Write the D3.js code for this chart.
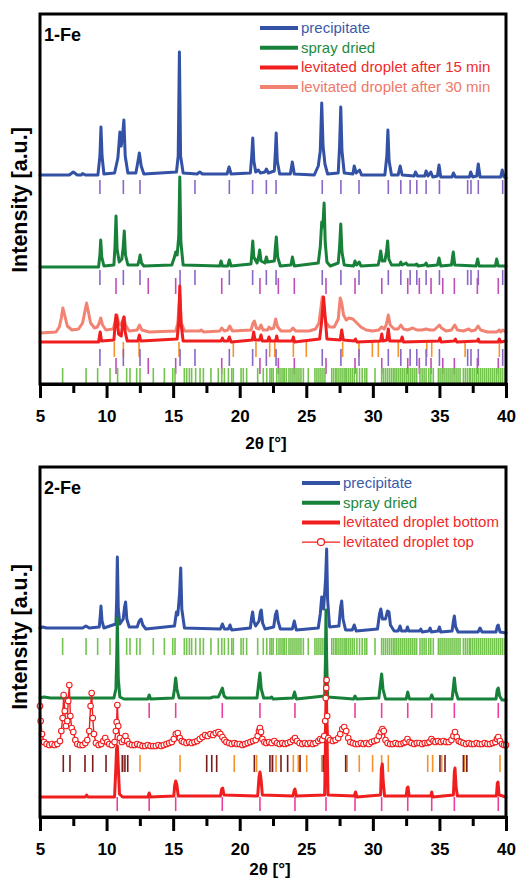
<!DOCTYPE html>
<html><head><meta charset="utf-8">
<script src="https://cdn.jsdelivr.net/npm/d3@7"></script>
<style>body{margin:0;background:#fff}svg{display:block}</style>
</head><body>
<script>
// ---------------- DATA ----------------
const xTicks = [5,10,15,20,25,30,35,40];
const xMinorTicks = [7.5,12.5,17.5,22.5,27.5,32.5,37.5];
const xTitle = "2\u03b8 [\u00b0]";
const yTitle = "Intensity [a.u.]";
const panelNames = ["1-Fe","2-Fe"];
const legend1 = ["precipitate","spray dried","levitated droplet after 15 min","levitated droplet after 30 min"];
const legend2 = ["precipitate","spray dried","levitated droplet bottom","levitated droplet top"];

// 1-Fe patterns: [2theta, intensity above own baseline]
const fe1Precipitate = [[5,1],[7.2,1],[7.5,4],[7.8,1],[8.1,1],[8.2,2.5],[8.4,1],[9.35,1],[9.5,20],[9.58,49],[9.66,20],[9.8,2],[10.6,3],[10.85,18],[11.0,44],[11.1,30],[11.2,40],[11.3,56],[11.4,20],[11.6,3],[12.2,3],[12.35,14],[12.46,23],[12.6,10],[12.8,2],[15.25,4],[15.38,20],[15.47,124],[15.56,20],[15.75,3],[16.8,2],[17.0,4],[17.2,2],[19.05,2],[19.2,9],[19.35,2],[20.8,3],[20.9,20],[20.98,38],[21.06,15],[21.2,4],[21.4,6],[21.55,3],[21.9,4],[22.0,7],[22.15,3],[22.6,5],[22.68,25],[22.74,43],[22.82,15],[23.0,2],[23.8,2],[23.95,14],[24.1,2],[25.6,1],[25.9,10],[26.05,25],[26.16,73],[26.26,30],[26.4,12],[26.6,2],[27.4,3],[27.5,30],[27.59,69],[27.68,25],[27.85,3],[28.5,2],[28.6,10],[28.75,3],[29.0,6],[29.15,1],[30.9,1],[31.05,20],[31.13,46],[31.22,15],[31.4,1],[31.9,1],[32.05,10],[32.2,1],[33.1,0],[33.2,4],[33.35,0],[33.9,0],[34.0,5],[34.15,0],[34.35,4],[34.5,-1],[34.85,0],[34.97,11],[35.1,-1],[35.95,-1],[36.05,3],[36.2,-1],[37.25,-1],[37.35,4],[37.5,-1],[37.8,0],[37.92,12],[38.05,-1],[39.6,-1],[39.72,6],[39.85,-1],[40,-2]];
const fe1SprayDried = [[5,0],[9.4,0],[9.5,12],[9.56,27],[9.64,10],[9.8,1],[10.55,2],[10.63,20],[10.71,51],[10.79,18],[10.95,5],[11.15,8],[11.25,20],[11.33,36],[11.42,12],[11.6,2],[12.35,2],[12.46,8],[12.52,12],[12.62,4],[12.8,1],[14.9,2],[15.1,10],[15.19,15],[15.3,12],[15.42,30],[15.5,90],[15.58,25],[15.75,2],[18.5,1],[18.6,6],[18.7,1],[19.1,1],[19.22,7],[19.35,1],[20.85,3],[20.92,15],[20.98,26],[21.06,10],[21.3,4],[21.42,10],[21.5,17],[21.6,6],[21.9,4],[22.0,10],[22.1,5],[22.6,6],[22.68,20],[22.75,30],[22.85,10],[23.05,1],[23.85,2],[23.96,10],[24.1,1],[25.9,4],[26.05,20],[26.16,45],[26.24,40],[26.34,64],[26.42,25],[26.55,5],[26.8,1],[27.4,4],[27.5,20],[27.59,43],[27.68,15],[27.85,2],[28.55,1],[28.66,6],[28.78,2],[28.98,5],[29.1,1],[30.4,2],[30.5,8],[30.59,16],[30.7,6],[30.9,6],[31.02,15],[31.11,26],[31.2,8],[31.4,2],[32.0,2],[32.1,5],[32.2,2],[32.5,4],[32.6,2],[33.2,2],[33.29,3],[33.4,1],[33.9,2],[34.0,4],[34.1,1],[34.85,2],[34.97,9],[35.1,1],[35.9,2],[36.04,15],[36.15,2],[37.75,1],[37.87,8],[37.98,1],[39.2,1],[39.3,8],[39.42,1],[40,1]];
const fe1Lev15 = [[5,0],[9.4,0],[9.52,10],[9.62,1],[10.55,2],[10.63,15],[10.71,27],[10.8,22],[10.9,8],[11.1,6],[11.22,20],[11.31,25],[11.4,10],[11.55,1],[12.35,1],[12.46,7],[12.57,1],[15.3,3],[15.42,20],[15.5,56],[15.58,20],[15.75,1],[18.6,1],[18.7,4],[18.8,1],[19.1,1],[19.22,5],[19.35,0],[20.95,2],[21.05,10],[21.15,2],[21.5,2],[21.6,7],[21.7,1],[22.1,1],[22.2,5],[22.3,1],[22.7,1],[22.78,6],[22.86,1],[23.95,1],[24.03,5],[24.12,0],[26.0,3],[26.15,20],[26.3,45],[26.42,25],[26.55,3],[27.55,2],[27.66,12],[27.78,2],[28.6,1],[28.7,3],[28.8,0],[30.58,1],[30.67,8],[30.76,1],[31.05,2],[31.16,13],[31.27,1],[32.1,1],[32.2,5],[32.3,0],[34.95,1],[35.04,4],[35.13,0],[36.1,1],[36.2,3],[36.3,0],[37.85,1],[37.92,3],[38.0,0],[39.4,0],[39.5,3],[39.6,0],[40,1]];
const fe1Lev30 = [[5,0],[6.2,1],[6.45,6],[6.6,15],[6.72,25],[6.85,18],[7.05,7],[7.4,3],[7.9,4],[8.2,10],[8.38,22],[8.5,30],[8.62,22],[8.8,10],[9.1,5],[9.3,6],[9.45,10],[9.56,15],[9.7,8],[9.95,3],[10.5,4],[10.65,12],[10.78,18],[10.9,10],[11.05,8],[11.2,12],[11.3,16],[11.42,8],[11.7,2],[12.3,3],[12.48,8],[12.65,3],[13.2,1],[15.2,2],[15.35,10],[15.5,38],[15.62,10],[15.85,2],[17.0,2],[17.1,3],[17.3,1],[18.5,2],[18.65,5],[18.85,2],[19.1,3],[19.25,7],[19.45,2],[20.85,3],[21.0,10],[21.1,12],[21.25,5],[21.45,4],[21.6,8],[21.75,3],[22.1,3],[22.2,6],[22.35,4],[22.55,5],[22.7,14],[22.85,6],[23.1,2],[23.8,2],[24.0,5],[24.2,2],[25.2,2],[25.7,4],[25.95,10],[26.1,25],[26.2,36],[26.32,20],[26.5,10],[26.75,6],[27.1,6],[27.4,14],[27.55,35],[27.66,30],[27.8,18],[28.0,13],[28.2,15],[28.5,14],[28.8,10],[29.1,6],[29.5,3],[30.0,2],[30.45,3],[30.65,6],[30.85,4],[31.0,8],[31.16,18],[31.3,8],[31.6,4],[31.9,4],[32.1,8],[32.3,4],[32.6,3],[33.0,5],[33.3,3],[33.7,3],[34.0,4],[34.3,3],[34.6,3],[34.85,6],[35.0,8],[35.15,5],[35.5,2],[35.9,3],[36.15,8],[36.35,3],[36.8,2],[37.2,4],[37.4,2],[37.7,3],[37.9,7],[38.1,3],[38.6,1],[39.3,1],[39.5,3],[39.6,1],[39.75,3],[40,1]];

// 2-Fe patterns
const fe2Precipitate = [[5,1],[5.2,2],[5.5,1],[8.2,1],[8.45,3],[8.7,1],[9.45,2],[9.52,12],[9.58,23],[9.66,8],[9.8,1],[10.7,5],[10.76,30],[10.81,72],[10.88,20],[11.0,5],[11.25,10],[11.35,22],[11.43,27],[11.52,10],[11.7,2],[12.3,2],[12.45,8],[12.59,10],[12.72,4],[12.95,0],[15.1,3],[15.25,17],[15.35,14],[15.48,35],[15.57,61],[15.65,20],[15.85,1],[18.55,0],[18.7,5],[18.85,0],[19.15,0],[19.27,4],[19.4,-1],[20.8,1],[20.9,12],[20.97,17],[21.05,8],[21.2,3],[21.45,8],[21.55,17],[21.62,19],[21.72,6],[21.9,0],[22.55,2],[22.68,14],[22.78,18],[22.88,8],[23.05,0],[23.95,0],[24.1,8],[24.25,-1],[25.9,1],[26.05,15],[26.16,32],[26.3,20],[26.45,50],[26.53,80],[26.6,30],[26.75,2],[27.45,3],[27.58,22],[27.66,28],[27.76,10],[27.95,-1],[28.45,-1],[28.6,4],[28.75,-2],[30.35,0],[30.5,15],[30.6,20],[30.72,10],[30.95,10],[31.1,18],[31.21,17],[31.32,4],[31.6,-2],[31.9,-2],[32.04,3],[32.15,-2],[32.5,-2],[32.6,2],[32.7,-2],[33.5,-2],[33.6,0],[33.7,-3],[34.2,-2],[34.3,1],[34.4,-3],[34.9,-2],[35.0,2],[35.1,-3],[35.95,-2],[36.05,8],[36.12,13],[36.22,2],[36.4,-3],[37.9,-3],[38.05,1],[38.2,-3],[39.25,-3],[39.35,3],[39.42,4],[39.55,-3],[40,-4]];
const fe2SprayDried = [[5,1],[5.3,2],[5.8,1],[10.55,1],[10.7,10],[10.76,40],[10.81,81],[10.88,20],[11.0,2],[11.3,0],[13.1,0],[13.2,4],[13.3,0],[15.0,1],[15.1,10],[15.19,21],[15.28,10],[15.45,1],[17.8,1],[18.0,2],[18.4,2],[18.6,8],[18.7,11],[18.82,3],[19.0,1],[21.3,1],[21.42,15],[21.52,26],[21.62,10],[21.8,1],[22.3,1],[22.4,2],[22.5,0],[24.0,1],[24.12,7],[24.25,0],[26.38,3],[26.44,40],[26.48,89],[26.53,40],[26.6,2],[28.55,0],[28.66,3],[28.78,0],[30.45,1],[30.57,15],[30.66,25],[30.76,10],[30.95,0],[32.5,0],[32.62,7],[32.75,0],[34.3,0],[34.42,4],[34.55,0],[35.95,0],[36.05,12],[36.12,21],[36.22,8],[36.4,0],[39.25,0],[39.34,9],[39.42,11],[39.52,3],[39.7,-1],[40,-1]];
const fe2LevBottom = [[5,0],[8.4,0],[8.5,2],[8.6,0],[10.6,0],[10.7,30],[10.75,48],[10.81,51],[10.88,30],[10.97,3],[11.2,0],[13.1,0],[13.2,4],[13.3,0],[15.05,1],[15.12,12],[15.19,16],[15.28,12],[15.38,1],[18.55,1],[18.65,8],[18.72,9],[18.82,2],[21.35,1],[21.45,20],[21.52,25],[21.6,18],[21.7,2],[24.0,1],[24.1,7],[24.15,8],[24.25,1],[26.38,2],[26.45,60],[26.5,117],[26.56,60],[26.63,2],[28.6,1],[28.7,5],[28.8,0],[30.58,2],[30.64,28],[30.71,33],[30.78,15],[30.88,1],[32.5,1],[32.58,9],[32.64,10],[32.72,1],[34.35,1],[34.42,5],[34.5,0],[36.05,2],[36.12,25],[36.17,29],[36.25,10],[36.35,1],[39.28,1],[39.35,14],[39.4,15],[39.48,2],[40,0]];
const fe2LevTop = [[5.0,40],[5.05,25],[5.15,12],[5.3,4],[5.5,2],[5.7,1],[5.9,2],[6.1,1],[6.3,2],[6.5,5],[6.6,15],[6.7,28],[6.78,51],[6.86,35],[6.95,20],[7.05,25],[7.12,45],[7.2,61],[7.28,30],[7.38,18],[7.5,14],[7.65,6],[7.8,2],[8.0,1],[8.2,1],[8.4,3],[8.55,6],[8.7,15],[8.8,40],[8.88,53],[8.96,28],[9.05,12],[9.2,3],[9.4,1],[9.6,2],[9.75,5],[9.9,8],[10.05,4],[10.2,2],[10.4,1],[10.6,4],[10.7,15],[10.76,24],[10.81,41],[10.88,20],[11.0,8],[11.15,4],[11.3,6],[11.42,10],[11.55,5],[11.7,2],[11.9,1],[12.1,1],[12.3,2],[12.5,1],[12.7,0],[12.9,0],[13.1,1],[13.3,0],[13.5,0],[13.7,0],[13.9,1],[14.1,0],[14.3,1],[14.5,2],[14.7,3],[14.9,4],[15.05,7],[15.2,12],[15.35,13],[15.5,8],[15.65,5],[15.8,4],[16.0,3],[16.2,4],[16.4,3],[16.6,4],[16.8,5],[17.0,7],[17.2,9],[17.4,11],[17.6,10],[17.8,12],[18.0,11],[18.2,13],[18.4,14],[18.55,12],[18.7,9],[18.85,6],[19.0,4],[19.2,3],[19.4,2],[19.6,3],[19.8,2],[20.0,2],[20.2,1],[20.4,2],[20.6,3],[20.8,4],[21.0,5],[21.2,6],[21.35,10],[21.45,15],[21.52,18],[21.6,14],[21.7,7],[21.85,4],[22.0,3],[22.2,4],[22.4,3],[22.6,5],[22.8,3],[23.0,2],[23.2,3],[23.4,2],[23.6,3],[23.8,4],[24.0,6],[24.15,8],[24.3,5],[24.5,3],[24.7,2],[24.9,3],[25.1,2],[25.3,3],[25.5,2],[25.7,3],[25.9,5],[26.05,7],[26.2,6],[26.35,10],[26.42,25],[26.46,48],[26.5,58],[26.53,66],[26.57,30],[26.65,8],[26.8,6],[27.0,5],[27.2,6],[27.4,8],[27.55,12],[27.7,17],[27.85,19],[28.0,15],[28.15,8],[28.3,4],[28.5,3],[28.7,2],[28.9,2],[29.1,3],[29.3,2],[29.5,3],[29.7,2],[29.9,4],[30.1,5],[30.3,6],[30.45,10],[30.6,14],[30.72,17],[30.82,15],[30.95,6],[31.1,3],[31.3,2],[31.5,2],[31.7,3],[31.9,2],[32.1,2],[32.3,3],[32.45,4],[32.6,7],[32.75,4],[32.9,3],[33.1,2],[33.3,3],[33.5,3],[33.7,2],[33.9,3],[34.1,3],[34.25,4],[34.4,7],[34.55,5],[34.7,4],[34.9,5],[35.1,4],[35.3,5],[35.5,4],[35.7,4],[35.9,6],[36.05,10],[36.17,14],[36.3,9],[36.45,5],[36.6,4],[36.8,3],[37.0,2],[37.2,3],[37.4,2],[37.6,2],[37.8,3],[38.0,2],[38.2,2],[38.4,3],[38.6,2],[38.8,2],[39.0,3],[39.2,4],[39.32,7],[39.42,9],[39.55,5],[39.7,2],[39.85,1],[40,1]];

// reference reflection positions (2theta)
const refPurple = [9.5,11.26,12.51,15.52,16.64,19.22,20.97,22.0,22.73,26.2,27.6,28.96,31.16,32.1,32.8,33.3,34.0,35.0,37.12,37.37,37.92,39.75];
const refMagenta = [10.71,13.13,15.19,18.65,21.52,22.9,24.1,26.48,28.66,30.67,32.62,33.49,34.37,35.25,36.12,37.85,39.42];
const refOrange1 = [10.58,11.26,12.44,15.44,19.52,21.22,22.25,22.63,24.03,25.0,27.73,28.96,29.96,30.41,31.91,34.05,34.42,36.93,39.5];
const refGreen = [6.7,8.46,9.33,10.26,10.83,11.51,11.76,12.26,12.51,13.51,14.34,14.97,15.14,15.84,16.02,16.22,16.39,16.69,17.02,17.27,17.84,18.39,18.65,18.85,19.15,19.4,19.52,20.1,20.27,20.52,21.35,21.77,22.03,22.27,22.4,22.52,22.78,22.95,23.1,23.25,23.35,23.5,23.7,23.85,24.0,24.15,24.3,24.45,24.6,24.78,25.15,25.65,25.8,25.95,26.1,26.25,26.4,26.91,27.05,27.2,27.3,27.45,27.6,27.75,27.9,28.0,28.15,28.3,28.45,28.6,28.8,29.0,29.2,29.4,29.54,30.16,30.66,30.8,30.95,31.1,31.25,31.4,31.54,31.66,31.8,31.95,32.1,32.25,32.4,32.55,32.7,32.85,33.0,33.15,33.29,33.54,33.7,33.85,34.0,34.2,34.35,34.54,34.92,35.05,35.2,35.35,35.5,35.65,35.8,35.95,36.1,36.25,36.4,36.55,36.8,36.95,37.1,37.25,37.35,37.5,37.65,37.8,37.95,38.1,38.25,38.4,38.55,38.7,38.85,39.0,39.15,39.3,39.45,39.6,39.75,39.93];
const refPink = [10.8,13.2,15.19,18.69,21.52,24.15,26.48,28.66,30.66,32.62,34.42,36.12,39.42];
const refBrown = [6.75,7.25,8.38,8.96,9.96,11.21,11.38,11.59,17.52,17.9,18.27,21.1,22.27,22.45,23.1,23.6,24.53,26.28,27.96,35.04,35.42,36.8,37.05];
const refOrange2 = [10.71,11.14,12.51,15.52,19.59,21.27,22.48,22.73,24.03,24.4,25.03,26.16,28.07,28.98,29.98,30.66,31.16,34.12,34.49,35.17,36.87,37.05,39.55];

// ---------------- DRAWING ----------------
const C = {blue:"#3352a5", green:"#17813a", red:"#f01e1e", salmon:"#f28272",
  purple:"#8a66c6", magenta:"#c24db6", orange:"#f4922c", lgreen:"#72c44c", brown:"#7a1c1c", pink:"#ea3f9e"};
const TXT = {blue:"#3c5aaa", green:"#1e8a40", red:"#f02a2a", salmon:"#f07868"};
const W = 516, H = 881;
const svg = d3.select("body").append("svg").attr("width",W).attr("height",H)
  .style("font-family","'Liberation Sans', Arial, sans-serif");
const x = d3.scaleLinear().domain([5,40]).range([40,506]);

function panel(cfg){
  const y = d3.scaleLinear().domain([0, cfg.bottom-cfg.top]).range([cfg.bottom, cfg.top]);
  const g = svg.append("g");
  // reference ticks
  cfg.ticks.forEach(t=>{
    g.append("g").selectAll("line").data(t.data).join("line")
      .attr("x1",d=>x(d)).attr("x2",d=>x(d))
      .attr("y1",y(t.lo)).attr("y2",y(t.hi))
      .attr("stroke",t.color).attr("stroke-width",1.6);
  });
  // patterns
  cfg.series.forEach(s=>{
    const line = d3.line().x(d=>x(d[0])).y(d=>y(d[1]+s.off));
    g.append("path").datum(s.data).attr("d",line).attr("fill","none")
      .attr("stroke",s.color).attr("stroke-width",s.circles?1.4:3)
      .attr("stroke-linejoin","round").attr("stroke-linecap","round");
    if(s.circles){
      g.append("g").selectAll("circle").data(s.data).join("circle")
        .attr("cx",d=>x(d[0])).attr("cy",d=>y(d[1]+s.off)).attr("r",2.8)
        .attr("fill","#fff").attr("stroke",s.color).attr("stroke-width",1.1);
    }
  });
  // frame
  g.append("rect").attr("x",40).attr("y",cfg.top).attr("width",466).attr("height",cfg.bottom-cfg.top)
    .attr("fill","none").attr("stroke","#000").attr("stroke-width",3);
  // axis
  const ax = g.append("g").attr("transform",`translate(0,${cfg.bottom})`)
    .call(d3.axisBottom(x).tickValues(xTicks).tickSize(14).tickPadding(12).tickFormat(d3.format("d")));
  ax.select(".domain").attr("stroke-width",3);
  ax.selectAll(".tick line").attr("stroke-width",3);
  ax.selectAll(".tick text").attr("font-size",17).attr("font-weight","bold").attr("fill","#000")
    .attr("font-family","'Liberation Sans', Arial, sans-serif");
  const mn = g.append("g").attr("transform",`translate(0,${cfg.bottom})`)
    .call(d3.axisBottom(x).tickValues(xMinorTicks).tickSize(9).tickFormat(""));
  mn.select(".domain").remove();
  mn.selectAll(".tick line").attr("stroke-width",3);
  // titles
  g.append("text").attr("x",cfg.xTitleX).attr("y",cfg.xTitleY).attr("text-anchor","middle")
    .attr("font-size",17).attr("font-weight","bold").text(xTitle);
  g.append("text").attr("transform",`translate(27,${cfg.ymid}) rotate(-90)`).attr("text-anchor","middle")
    .attr("font-size",21.5).attr("font-weight","bold").text(yTitle);
  g.append("text").attr("x",44).attr("y",cfg.top+27).attr("font-size",18).attr("font-weight","bold").text(cfg.name);
  // legend
  const lg = g.append("g");
  cfg.legend.forEach((name,i)=>{
    const ly = cfg.legY + i*19.7;
    const s = cfg.legStyle[i];
    lg.append("line").attr("x1",cfg.legX).attr("x2",cfg.legX+38).attr("y1",ly).attr("y2",ly)
      .attr("stroke",s.color).attr("stroke-width",s.circles?1.4:4);
    if(s.circles) lg.append("circle").attr("cx",cfg.legX+19).attr("cy",ly).attr("r",3.5)
      .attr("fill","#fff").attr("stroke",s.color).attr("stroke-width",1.2);
    lg.append("text").attr("x",cfg.legX+41).attr("y",ly+5).attr("font-size",15).attr("fill",s.text).text(name);
  });
}

panel({name:panelNames[0], top:14, bottom:384, ymid:200, xTitleX:266, xTitleY:449, legX:260, legY:28, legend:legend1,
  legStyle:[{color:C.blue,text:TXT.blue},{color:C.green,text:TXT.green},{color:C.red,text:TXT.red},{color:C.salmon,text:TXT.salmon}],
  ticks:[
    {data:refPurple,color:C.purple,lo:190,hi:204},
    {data:refPurple,color:C.purple,lo:99,hi:114},
    {data:refMagenta,color:C.magenta,lo:90,hi:106},
    {data:refOrange1,color:C.orange,lo:27,hi:42},
    {data:refPurple,color:C.purple,lo:18,hi:35},
    {data:refMagenta,color:C.magenta,lo:10,hi:26},
    {data:refGreen,color:C.lgreen,lo:0,hi:16}],
  series:[
    {data:fe1Precipitate,color:C.blue,off:208},
    {data:fe1SprayDried,color:C.green,off:117},
    {data:fe1Lev30,color:C.salmon,off:51},
    {data:fe1Lev15,color:C.red,off:42}]
});
panel({name:panelNames[1], top:467, bottom:817, ymid:637, xTitleX:270, xTitleY:875, legX:302, legY:483, legend:legend2,
  legStyle:[{color:C.blue,text:TXT.blue},{color:C.green,text:TXT.green},{color:C.red,text:TXT.red},{color:C.red,text:TXT.red,circles:true}],
  ticks:[
    {data:refGreen,color:C.lgreen,lo:162,hi:179},
    {data:refPink,color:C.pink,lo:99,hi:114},
    {data:refOrange2,color:C.orange,lo:45,hi:62},
    {data:refBrown,color:C.brown,lo:45,hi:62},
    {data:refPink,color:C.pink,lo:6,hi:20}],
  series:[
    {data:fe2Precipitate,color:C.blue,off:188},
    {data:fe2SprayDried,color:C.green,off:118},
    {data:fe2LevBottom,color:C.red,off:20},
    {data:fe2LevTop,color:C.red,off:71,circles:true}]
});
</script>
</body></html>
